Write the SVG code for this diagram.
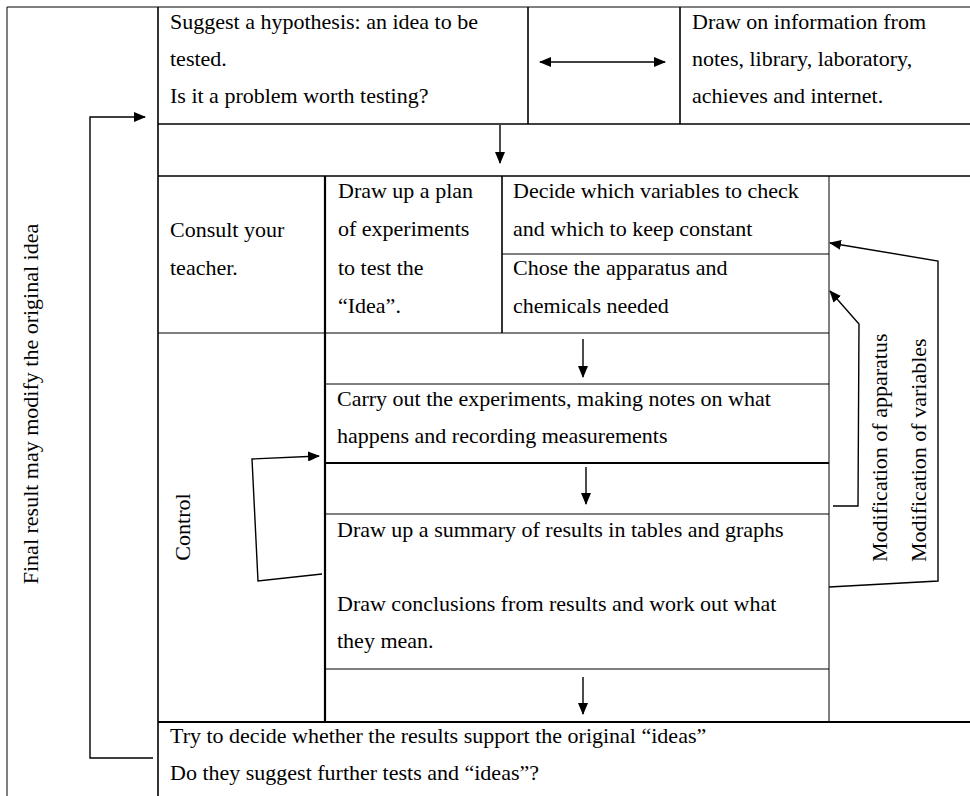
<svg xmlns="http://www.w3.org/2000/svg" width="970" height="796" viewBox="0 0 970 796">
<style>
  .t { font-size: 22px; fill: #000; }
  .g1 { stroke: #000; stroke-width: 1; fill: none; }
  .g2 { stroke: #000; stroke-width: 1.6; fill: none; }
  .g3 { stroke: #000; stroke-width: 2.2; fill: none; }
  .ca { stroke: #000; stroke-width: 1.4; fill: none; marker-end: url(#ah); }
</style>
<defs>
  <marker id="ah" markerUnits="userSpaceOnUse" markerWidth="12" markerHeight="10" refX="11" refY="5" orient="auto">
    <path d="M0,0 L12,5 L0,10 Z" fill="#000"/>
  </marker>
  <marker id="ahs" markerUnits="userSpaceOnUse" markerWidth="12" markerHeight="10" refX="1" refY="5" orient="auto">
    <path d="M12,0 L0,5 L12,10 Z" fill="#000"/>
  </marker>
</defs>
<rect x="0" y="0" width="970" height="796" fill="#fff"/>

<g id="grid">
  <line class="g1" x1="7" y1="7" x2="970" y2="7"/>
  <line class="g1" x1="7" y1="7" x2="7" y2="796"/>
  <line class="g2" x1="158" y1="7" x2="158" y2="796"/>
  <line class="g2" x1="528" y1="7" x2="528" y2="124"/>
  <line class="g2" x1="680" y1="7" x2="680" y2="124"/>
  <line class="g2" x1="158" y1="124" x2="970" y2="124"/>
  <line class="g2" x1="158" y1="176" x2="970" y2="176"/>
  <line class="g3" x1="325" y1="176" x2="325" y2="722"/>
  <line class="g2" x1="502" y1="176" x2="502" y2="333"/>
  <line class="g1" x1="502" y1="254" x2="829" y2="254"/>
  <line class="g1" x1="829" y1="176" x2="829" y2="722"/>
  <line class="g1" x1="158" y1="333" x2="829" y2="333"/>
  <line class="g1" x1="325" y1="384" x2="829" y2="384"/>
  <line class="g3" x1="325" y1="463" x2="829" y2="463"/>
  <line class="g1" x1="325" y1="514" x2="829" y2="514"/>
  <line class="g1" x1="325" y1="669" x2="829" y2="669"/>
  <line class="g3" x1="158" y1="722" x2="970" y2="722"/>
</g>

<g font-family="'Liberation Serif', 'DejaVu Serif', 'Times New Roman', serif">
<g id="n_final">
  <text class="t" x="38" y="404" text-anchor="middle" transform="rotate(-90 38 404)">Final result may modify the original idea</text>
</g>

<g id="n_hypothesis">
  <text class="t" x="170" y="29">Suggest a hypothesis: an idea to be</text>
  <text class="t" x="170" y="66">tested.</text>
  <text class="t" x="170" y="103">Is it a problem worth testing?</text>
</g>

<g id="n_info">
  <text class="t" x="692" y="29">Draw on information from</text>
  <text class="t" x="692" y="66">notes, library, laboratory,</text>
  <text class="t" x="692" y="103">achieves and internet.</text>
</g>

<g id="n_consult">
  <text class="t" x="170" y="237">Consult your</text>
  <text class="t" x="170" y="275">teacher.</text>
</g>

<g id="n_plan">
  <text class="t" x="338" y="198">Draw up a plan</text>
  <text class="t" x="338" y="236">of experiments</text>
  <text class="t" x="338" y="275">to test the</text>
  <text class="t" x="338" y="313">“Idea”.</text>
</g>

<g id="n_variables">
  <text class="t" x="513" y="198">Decide which variables to check</text>
  <text class="t" x="513" y="236">and which to keep constant</text>
</g>

<g id="n_apparatus">
  <text class="t" x="513" y="275">Chose the apparatus and</text>
  <text class="t" x="513" y="313">chemicals needed</text>
</g>

<g id="n_control">
  <text class="t" x="190" y="527" text-anchor="middle" transform="rotate(-90 190 527)">Control</text>
</g>

<g id="n_carry">
  <text class="t" x="337" y="406">Carry out the experiments, making notes on what</text>
  <text class="t" x="337" y="443">happens and recording measurements</text>
</g>

<g id="n_summary">
  <text class="t" x="337" y="537">Draw up a summary of results in tables and graphs</text>
  <text class="t" x="337" y="611">Draw conclusions from results and work out what</text>
  <text class="t" x="337" y="648">they mean.</text>
</g>

<g id="n_try">
  <text class="t" x="170" y="743">Try to decide whether the results support the original “ideas”</text>
  <text class="t" x="170" y="780">Do they suggest further tests and “ideas”?</text>
</g>

<g id="n_mod_apparatus">
  <text class="t" x="887" y="562" transform="rotate(-90 887 562)">Modification of apparatus</text>
</g>

<g id="n_mod_variables">
  <text class="t" x="926" y="562" transform="rotate(-90 926 562)">Modification of variables</text>
</g>
</g>

<g id="connectors">
  <line class="ca" x1="540" y1="62" x2="665" y2="62" marker-start="url(#ahs)"/>
  <line class="ca" x1="500" y1="125" x2="500" y2="163"/>
  <line class="ca" x1="583" y1="339" x2="583" y2="377"/>
  <line class="ca" x1="586" y1="467" x2="586" y2="504"/>
  <line class="ca" x1="583" y1="677" x2="583" y2="714"/>
  <path class="ca" d="M153,758 L90,758 L90,117 L145,117"/>
  <path class="ca" d="M322,574 L258,581 L252,459 L319,456"/>
  <path class="ca" d="M833,506 L858,506 L859,324 L830,291"/>
  <path class="ca" d="M829,587 L938,581 L938,261 L830,243"/>
</g>
</svg>
